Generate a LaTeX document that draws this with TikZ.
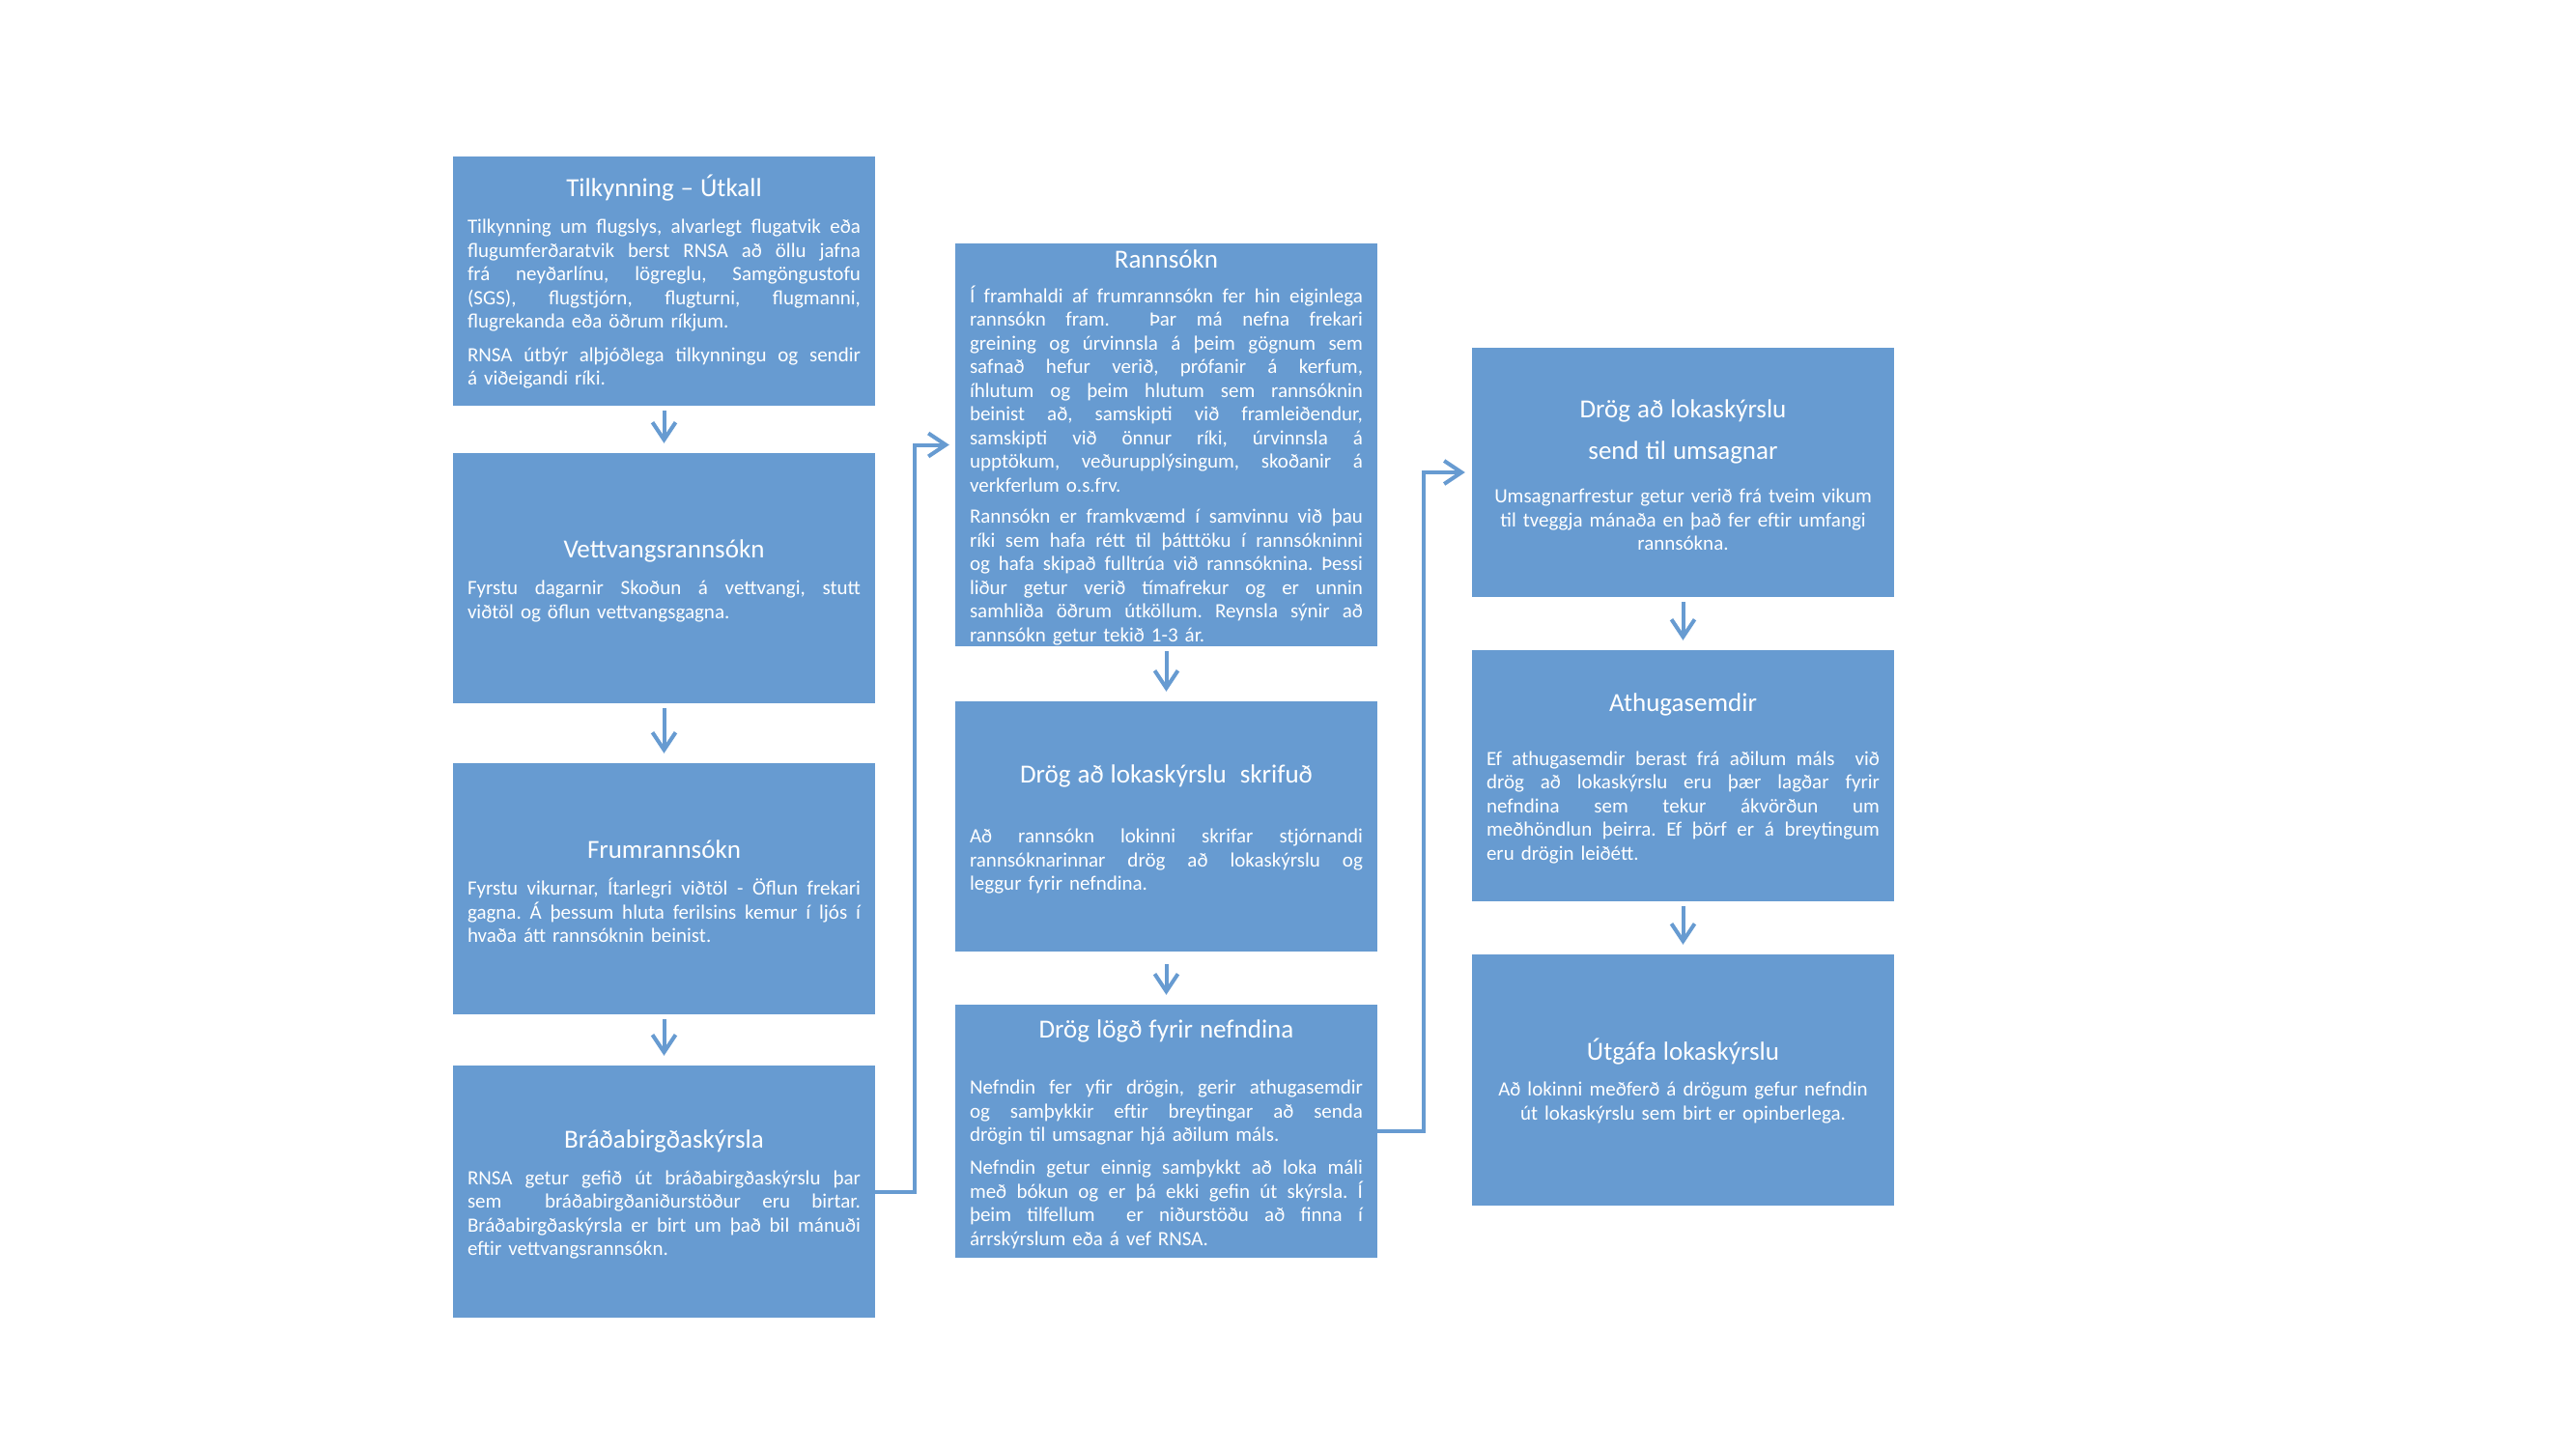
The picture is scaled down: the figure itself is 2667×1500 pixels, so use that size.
\documentclass[tikz,border=0pt]{standalone}
\usepackage{fontspec}
\setmainfont{Carlito}
\usetikzlibrary{arrows.meta}
\definecolor{boxblue}{RGB}{103,155,209}
\frenchspacing
\newlength\tw \setlength\tw{407pt}
\newcommand\jl[1]{\par\noindent\hbox to\tw{\spaceskip=0.23em plus 2em minus 0.04em\relax #1}\par}
\newcommand\nl[1]{\par\noindent\hbox to\tw{#1\hfil}\par}
\newcommand\cl[1]{\par\noindent\hbox to\tw{\hfil#1\hfil}\par}
\newcommand\ttl[1]{\par\noindent\hbox to\tw{\hfil\fontsize{27}{32}\selectfont#1\hfil}\par}
\newcommand\gp[1]{\par\vspace{#1}}
\tikzset{
  box/.style={fill=boxblue, text=white, minimum width=437pt, text width=407pt,
    inner xsep=15pt, inner ysep=0pt, font={\fontsize{21}{24.5}\selectfont}},
  arr/.style={draw=boxblue, line width=4pt,
    -{Straight Barb[length=18pt,width=24pt,line width=4pt]}},
  darr/.style={arr, shorten <=5pt, shorten >=10pt}
}
\begin{document}
\begin{tikzpicture}[x=1pt,y=-1pt]
\fill[white] (0,0) rectangle (2667,1500);
\node[box, minimum height=258pt] (b1) at (687.5,291) {%
\ttl{Tilkynning – Útkall}\gp{13.5pt}
\jl{Tilkynning um flugslys, alvarlegt flugatvik eða}
\jl{flugumferðaratvik berst RNSA að öllu jafna}
\jl{frá neyðarlínu, lögreglu, Samgöngustofu}
\jl{(SGS), flugstjórn, flugturni, flugmanni,}
\nl{flugrekanda eða öðrum ríkjum.}\gp{10pt}
\jl{RNSA útbýr alþjóðlega tilkynningu og sendir}
\nl{á viðeigandi ríki.}};
\node[box, minimum height=259pt] (b2) at (687.5,598.5) {%
\ttl{Vettvangsrannsókn}\gp{13.5pt}
\jl{Fyrstu dagarnir Skoðun á vettvangi, stutt}
\nl{viðtöl og öflun vettvangsgagna.}};
\node[box, minimum height=260pt] (b3) at (687.5,920) {%
\ttl{Frumrannsókn}\gp{13.5pt}
\jl{Fyrstu vikurnar, Ítarlegri viðtöl - Öflun frekari}
\jl{gagna. Á þessum hluta ferilsins kemur í ljós í}
\nl{hvaða átt rannsóknin beinist.}};
\node[box, minimum height=261pt] (b4) at (687.5,1233.5) {%
\ttl{Bráðabirgðaskýrsla}\gp{13.5pt}
\jl{RNSA getur gefið út bráðabirgðaskýrslu þar}
\jl{sem\ \ bráðabirgðaniðurstöður eru birtar.}
\jl{Bráðabirgðaskýrsla er birt um það bil mánuði}
\nl{eftir vettvangsrannsókn.}};
\node[box, minimum height=417pt] (rann) at (1207.5,460.5) {%
\ttl{Rannsókn}\gp{11.5pt}
\jl{Í framhaldi af frumrannsókn fer hin eiginlega}
\jl{rannsókn fram.\ \ Þar má nefna frekari}
\jl{greining og úrvinnsla á þeim gögnum sem}
\jl{safnað hefur verið, prófanir á kerfum,}
\jl{íhlutum og þeim hlutum sem rannsóknin}
\jl{beinist að, samskipti við framleiðendur,}
\jl{samskipti við önnur ríki, úrvinnsla á}
\jl{upptökum, veðurupplýsingum, skoðanir á}
\nl{verkferlum o.s.frv.}\gp{8pt}
\jl{Rannsókn er framkvæmd í samvinnu við þau}
\jl{ríki sem hafa rétt til þátttöku í rannsókninni}
\jl{og hafa skipað fulltrúa við rannsóknina. Þessi}
\jl{liður getur verið tímafrekur og er unnin}
\jl{samhliða öðrum útköllum. Reynsla sýnir að}
\nl{rannsókn getur tekið 1-3 ár.}};
\node[box, minimum height=259pt] (skrif) at (1207.5,855.5) {%
\ttl{Drög að lokaskýrslu\ \ skrifuð}\gp{38pt}
\jl{Að rannsókn lokinni skrifar stjórnandi}
\jl{rannsóknarinnar drög að lokaskýrslu og}
\nl{leggur fyrir nefndina.}};
\node[box, minimum height=262pt] (logd) at (1207.5,1171) {%
\ttl{Drög lögð fyrir nefndina}\gp{34pt}
\jl{Nefndin fer yfir drögin, gerir athugasemdir}
\jl{og samþykkir eftir breytingar að senda}
\nl{drögin til umsagnar hjá aðilum máls.}\gp{9.5pt}
\jl{Nefndin getur einnig samþykkt að loka máli}
\jl{með bókun og er þá ekki gefin út skýrsla. Í}
\jl{þeim tilfellum\ \ er niðurstöðu að finna í}
\nl{árrskýrslum eða á vef RNSA.}};
\node[box, minimum height=258pt] (umsogn) at (1742.5,489) {%
\ttl{Drög að lokaskýrslu}\gp{18.5pt}
\ttl{send til umsagnar}\gp{21pt}
\cl{Umsagnarfrestur getur verið frá tveim vikum}
\cl{til tveggja mánaða en það fer eftir umfangi}
\cl{rannsókna.}};
\node[box, minimum height=260pt] (ath) at (1742.5,803) {%
\ttl{Athugasemdir}\gp{31.5pt}
\jl{Ef athugasemdir berast frá aðilum máls\ \ við}
\jl{drög að lokaskýrslu eru þær lagðar fyrir}
\jl{nefndina sem tekur ákvörðun um}
\jl{meðhöndlun þeirra. Ef þörf er á breytingum}
\nl{eru drögin leiðétt.}};
\node[box, minimum height=260pt] (utg) at (1742.5,1118) {%
\ttl{Útgáfa lokaskýrslu}\gp{12.5pt}
\cl{Að lokinni meðferð á drögum gefur nefndin}
\cl{út lokaskýrslu sem birt er opinberlega.}};
\draw[darr] (b1) -- (b2);
\draw[darr] (b2) -- (b3);
\draw[darr] (b3) -- (b4);
\draw[darr] (rann) -- (skrif);
\draw[darr, shorten <=13pt] (skrif) -- (logd);
\draw[darr] (umsogn) -- (ath);
\draw[darr] (ath) -- (utg);
\draw[arr, shorten >=6pt] (b4.east) -- ++(41,0) |- (rann.west);
\draw[arr, shorten >=7pt] (logd.east) -- ++(48,0) |- (umsogn.west);
\end{tikzpicture}
\end{document}
